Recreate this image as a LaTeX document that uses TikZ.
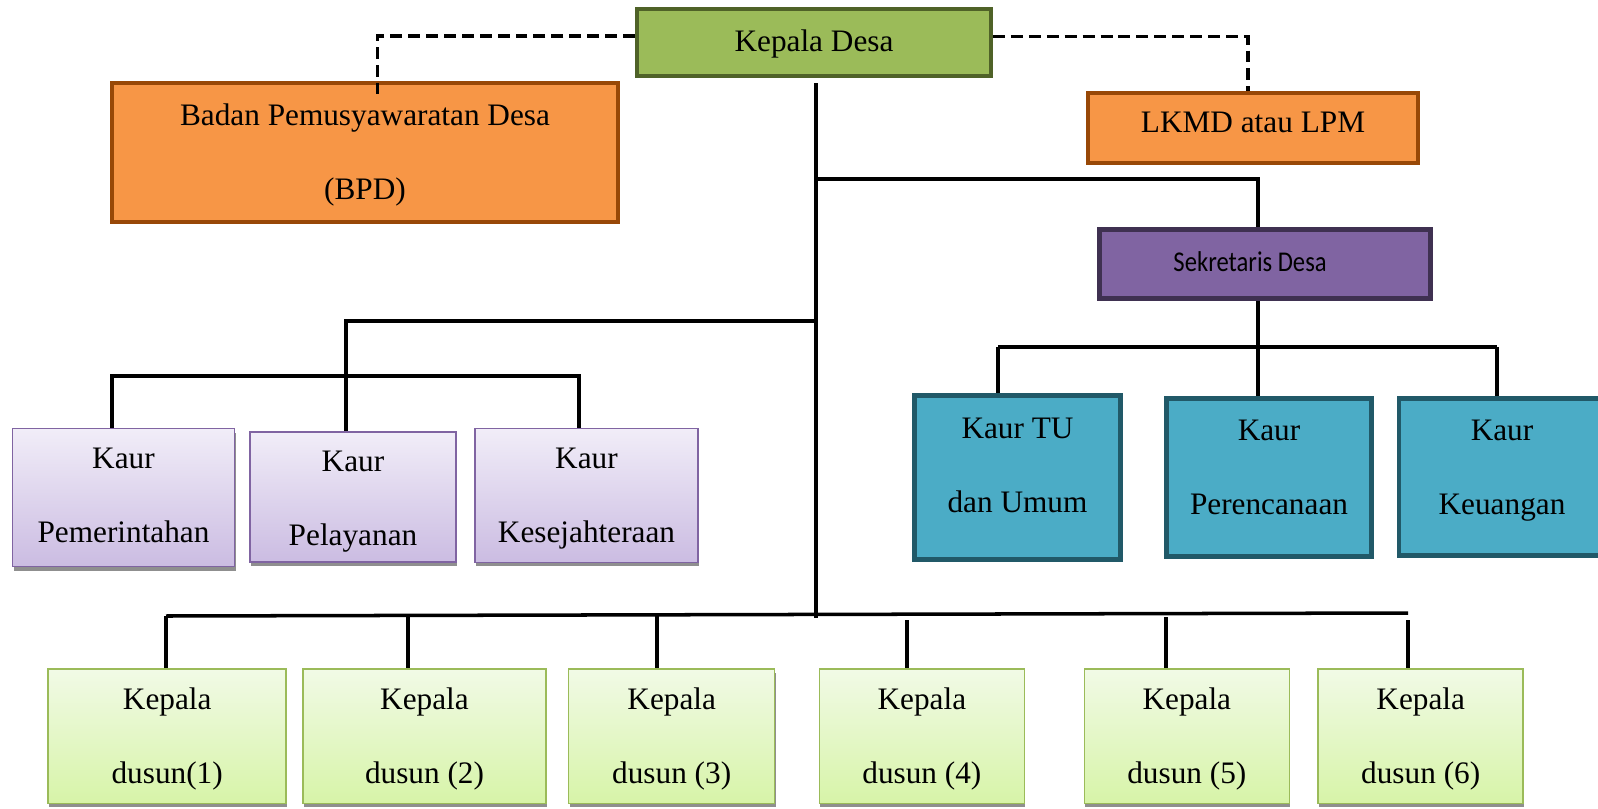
\documentclass[tikz,border=0pt]{standalone}
\usepackage{fontspec}
\setmainfont{Liberation Serif}
\newfontfamily\calibrifont[FakeStretch=0.86]{Carlito}
\usetikzlibrary{shadows}

\definecolor{kdFill}{HTML}{9BBB59}
\definecolor{kdLine}{HTML}{4F6228}
\definecolor{orFill}{HTML}{F79646}
\definecolor{orLine}{HTML}{984807}
\definecolor{puFill}{HTML}{8064A2}
\definecolor{puLine}{HTML}{3F3151}
\definecolor{tlFill}{HTML}{4BACC6}
\definecolor{tlLine}{HTML}{215968}
\definecolor{lvTop}{HTML}{F1EDF8}
\definecolor{lvBot}{HTML}{CBBCE2}
\definecolor{lvLine}{HTML}{8064A2}
\definecolor{gnTop}{HTML}{F1FAE6}
\definecolor{gnBot}{HTML}{D7F4A8}
\definecolor{gnLine}{HTML}{9BBB59}

% one line shifted vertically inside its box without changing the box size
\newcommand\liftby[2]{\raisebox{#1}[\height][\depth]{#2}}
% two double-spaced lines, shifted by #1; they take no room, so the box keeps its size
\newcommand\twolines[3]{\raisebox{#1}[0pt][0pt]{\begin{tabular}{@{}c@{}}#2\\#3\end{tabular}}}

\tikzset{
  size/.style 2 args={minimum width={#1*0.02cm}, minimum height={#2*0.02cm}},
  box/.style={rectangle, inner sep=0pt, align=center,
              font=\fontsize{17.8}{42}\selectfont},
  head/.style={box, fill=kdFill, draw=kdLine, line width=2.3pt},
  council/.style={box, fill=orFill, draw=orLine, line width=2.3pt},
  secr/.style={box, fill=puFill, draw=puLine, line width=2.8pt,
               font=\calibrifont\fontsize{16.3}{19}\selectfont},
  staff/.style={box, fill=tlFill, draw=tlLine, line width=2.8pt},
  section/.style={box, top color=lvTop, bottom color=lvBot, draw=lvLine,
                  line width=0.85pt,
                  drop shadow={shadow xshift=0.6pt, shadow yshift=-2.2pt,
                               fill=black!55, opacity=0.8}},
  hamlet/.style={box, top color=gnTop, bottom color=gnBot, draw=gnLine,
                 line width=0.85pt,
                 drop shadow={shadow xshift=0.6pt, shadow yshift=-2.2pt,
                              fill=black!55, opacity=0.8}},
  link/.style={line width=2pt},
  dlink/.style={line width=1.9pt, dash pattern=on 6.8pt off 3.4pt}
}

\begin{document}
\begin{tikzpicture}[x=0.02cm, y=-0.02cm]
\useasboundingbox (0,0) rectangle (1598,808);
\clip (0,0) rectangle (1598,808);

% head of the village and advisory bodies
\node[head, size={354}{67}] (kd) at (814,42.5) {\liftby{-1.1pt}{Kepala Desa}};
\node[council, size={506}{139}] (bpd) at (365,152.5) {\twolines{-1.75pt}{Badan Pemusyawaratan Desa}{(BPD)}};
\node[council, size={330}{70}] (lkmd) at (1253,128) {\liftby{2.9pt}{LKMD atau LPM}};

% secretary and its sections
\node[secr, size={330.5}{69}] (sek) at (1265,264) {\liftby{1.5pt}{Sekretaris Desa}\hspace*{17pt}};
\node[staff, size={206}{164}] (tu) at (1017.5,477.5) {\twolines{5.35pt}{Kaur TU}{dan Umum}};
\node[staff, size={205.5}{158}] (per) at (1269,477.5) {\twolines{3.95pt}{Kaur}{Perencanaan}};
\node[staff, size={206}{157}] (keu) at (1502,477) {\twolines{3.65pt}{Kaur}{Keuangan}};

% sections under the head
\node[section, size={222}{138}] (pem) at (123.5,497.7) {\twolines{-0.45pt}{Kaur}{Pemerintahan}};
\node[section, size={206}{130}] (pel) at (353,497.2) {\twolines{-2.45pt}{Kaur}{Pelayanan}};
\node[section, size={223}{134}] (kes) at (586.5,495.5) {\twolines{-1.75pt}{Kaur}{Kesejahteraan}};

% hamlet heads
\node[hamlet, size={238}{134.5}] (d1) at (167.2,736.2) {\twolines{-1.95pt}{Kepala}{dusun(1)}};
\node[hamlet, size={243}{134.5}] (d2) at (424.5,736.2) {\twolines{-1.95pt}{Kepala}{dusun (2)}};
\node[hamlet, size={206}{134.5}] (d3) at (671.7,736.2) {\twolines{-1.95pt}{Kepala}{dusun (3)}};
\node[hamlet, size={205}{134.5}] (d4) at (921.9,736.2) {\twolines{-1.95pt}{Kepala}{dusun (4)}};
\node[hamlet, size={205}{134.5}] (d5) at (1186.8,736.2) {\twolines{-1.95pt}{Kepala}{dusun (5)}};
\node[hamlet, size={205}{134.5}] (d6) at (1420.7,736.2) {\twolines{-1.95pt}{Kepala}{dusun (6)}};

% main spine
\coordinate (spTop) at (816,83);
\coordinate (spSek) at (816,179);
\coordinate (spKaur) at (816,321);
\coordinate (spBot) at (816,618);
\draw[link] (spTop) -- (spBot);

% branch to the secretary
\coordinate (sekX) at (1258,179);
\draw[link] (spSek) -- (sekX) -- (sekX |- sek.north);

% secretary's sections
\coordinate (sekBus) at (1258,347);
\coordinate (tuX) at (998,347);
\coordinate (keuX) at (1497,347);
\draw[link] (sek.south -| sekBus) -- (sekBus);
\draw[link] (tuX) -- (keuX);
\draw[link] (tuX) -- (tuX |- tu.north);
\draw[link] (sekBus) -- (sekBus |- per.north);
\draw[link] (keuX) -- (keuX |- keu.north);

% head's sections
\coordinate (pelX) at (346,321);
\coordinate (pemX) at (112,376);
\coordinate (kesX) at (579,376);
\draw[link] (spKaur) -- (pelX) -- (pelX |- pel.north);
\draw[link] (pemX |- pem.north) -- (pemX) -- (kesX) -- (kesX |- kes.north);

% hamlet bus
\coordinate (busL) at (166,616);
\coordinate (busR) at (1408,613);
\draw[link] (busL) -- (busR);
\coordinate (t1) at (166,616);
\coordinate (t2) at (408,616);
\coordinate (t3) at (657,615);
\coordinate (t4) at (907,620);
\coordinate (t5) at (1166,617);
\coordinate (t6) at (1408,620);
\draw[link] (t1) -- (t1 |- d1.north);
\draw[link] (t2) -- (t2 |- d2.north);
\draw[link] (t3) -- (t3 |- d3.north);
\draw[link] (t4) -- (t4 |- d4.north);
\draw[link] (t5) -- (t5 |- d5.north);
\draw[link] (t6) -- (t6 |- d6.north);

% dashed consultative links
\coordinate (bpdCorner) at (377.6,36);
\coordinate (bpdEnd) at (377.6,94);
\draw[dlink] (kd.west |- bpdCorner) -- (bpdCorner) -- (bpdEnd);
\coordinate (lkCorner) at (1248,36.7);
\draw[dlink] (kd.east |- lkCorner) -- (lkCorner) -- (lkCorner |- lkmd.north);
\end{tikzpicture}
\end{document}
